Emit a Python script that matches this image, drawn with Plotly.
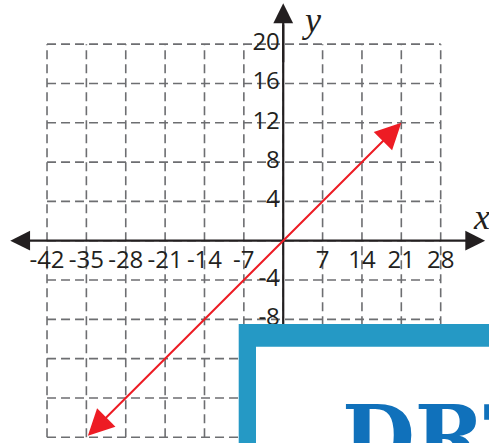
import plotly.graph_objects as go

# tick values / labels
x_ticks = [-42, -35, -28, -21, -14, -7, 7, 14, 21, 28]
y_ticks = [20, 16, 12, 8, 4, -4, -8]
grid_x = [-42, -35, -28, -21, -14, -7, 0, 7, 14, 21, 28]
grid_y = [-20, -16, -12, -8, -4, 0, 4, 8, 12, 16, 20]

# the plotted line y = 4x/7, drawn between two points
line_x = [-35, 21]
line_y = [-20, 12]

X_RANGE = [-50.36, 36.59]
Y_RANGE = [-20.58, 24.49]
INK = '#231f20'
GRID = '#6d6e71'
RED = '#ed1c24'

fig = go.Figure()

# dashed grid
gx, gy = [], []
for v in grid_x:
    gx += [v, v, None]
    gy += [grid_y[0], grid_y[-1], None]
for v in grid_y:
    gx += [grid_x[0], grid_x[-1], None]
    gy += [v, v, None]
fig.add_trace(go.Scatter(x=gx, y=gy, mode='lines', hoverinfo='skip',
                         line=dict(color=GRID, width=1.6, dash='9px,5px')))

# y axis line (the arrow head is an annotation)
fig.add_trace(go.Scatter(x=[0, 0], y=[-12, 22], mode='lines', hoverinfo='skip',
                         line=dict(color=INK, width=2.2)))

tick_font = dict(family='Open Sans', size=24, color=INK)
fig.add_trace(go.Scatter(x=x_ticks, y=[-2.12] * len(x_ticks), mode='text',
                         text=[str(v) for v in x_ticks], textposition='middle center',
                         textfont=tick_font, hoverinfo='skip'))
fig.add_trace(go.Scatter(x=[-0.6] * len(y_ticks), y=y_ticks, mode='text',
                         text=[str(v) for v in y_ticks], textposition='middle left',
                         textfont=tick_font, hoverinfo='skip'))

# x axis with two heads
fig.add_annotation(x=35.9, y=0, ax=-48.8, ay=0, xref='x', yref='y', axref='x', ayref='y',
                   text='', showarrow=True, arrowside='end+start', arrowhead=2,
                   arrowsize=1.8, arrowwidth=2.2, arrowcolor=INK)
# y axis head
fig.add_annotation(x=0, y=24.15, ax=0, ay=18, xref='x', yref='y', axref='x', ayref='y',
                   text='', showarrow=True, arrowhead=2,
                   arrowsize=1.8, arrowwidth=2.2, arrowcolor=INK)
# red line
fig.add_annotation(x=line_x[1], y=line_y[1], ax=line_x[0], ay=line_y[0],
                   xref='x', yref='y', axref='x', ayref='y',
                   text='', showarrow=True, arrowside='end+start', arrowhead=2,
                   arrowsize=2.6, arrowwidth=2, arrowcolor=RED)

# axis names
fig.add_annotation(x=311 / 489, y=1 - 20 / 443, xref='paper', yref='paper', text='<i>y</i>',
                   showarrow=False, font=dict(family='Liberation Serif', size=36, color=INK),
                   xanchor='center', yanchor='middle')
fig.add_annotation(x=481 / 489, y=1 - 217 / 443, xref='paper', yref='paper', text='<i>x</i>',
                   showarrow=False, font=dict(family='Liberation Serif', size=36, color=INK),
                   xanchor='center', yanchor='middle')

# watermark box over the lower right
fig.add_shape(type='rect', xref='paper', yref='paper', layer='above',
              x0=238.7 / 489, x1=1.05, y0=-0.05, y1=1 - 324 / 443,
              fillcolor='#2599c5', line=dict(width=0))
fig.add_shape(type='rect', xref='paper', yref='paper', layer='above',
              x0=256 / 489, x1=1.05, y0=-0.05, y1=1 - 346.7 / 443,
              fillcolor='white', line=dict(width=0))
fig.add_annotation(x=340 / 489, y=1 - 385 / 443, xref='paper', yref='paper', text='<b>DRT</b>',
                   showarrow=False, font=dict(family='DejaVu Serif', size=84, color='#1071bb'),
                   xanchor='left', yanchor='top')

fig.update_layout(
    width=489,
    height=443,
    margin=dict(l=0, r=0, t=0, b=0),
    plot_bgcolor='white',
    paper_bgcolor='white',
    showlegend=False,
    xaxis=dict(range=X_RANGE, visible=False, fixedrange=True),
    yaxis=dict(range=Y_RANGE, visible=False, fixedrange=True),
)

# page body margin would push the figure 8px off the window
fig.write_html('out.html', config={'displayModeBar': False},
               post_script="document.body.style.margin='0';")
